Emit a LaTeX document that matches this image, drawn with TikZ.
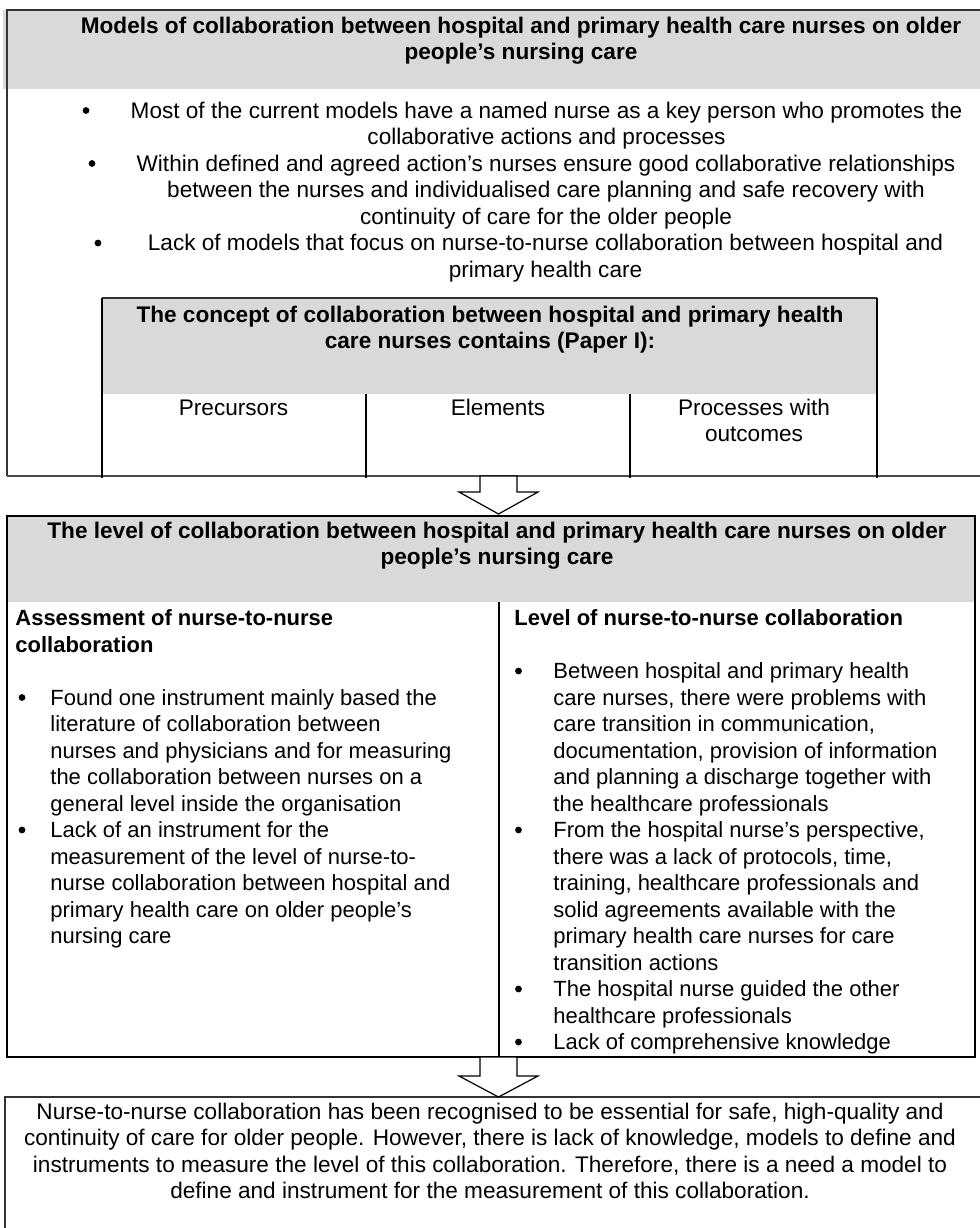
\documentclass[tikz,border=0pt]{standalone}
\usepackage{fontspec}
\setmainfont{Liberation Sans}
\definecolor{hdr}{HTML}{D9D9D9}
\begin{document}
\begin{tikzpicture}[x=0.5pt,y=-0.5pt,
  t/.style={font=\fontsize{11.3}{13}\selectfont, inner sep=0pt, anchor=base},
  tl/.style={font=\fontsize{11}{13}\selectfont, inner sep=0pt, anchor=base west},
  tb/.style={t, font=\fontsize{11.3}{13}\selectfont\bfseries},
  tbl/.style={tl, font=\fontsize{11}{13}\selectfont\bfseries},
  bul/.style={circle, fill=black, inner sep=0pt, minimum size=3.4pt},
  frame/.style={line width=0.6pt, draw=black!80},
  innerline/.style={line width=0.9pt, draw=black},
  heavy/.style={line width=0.8pt, draw=black},
  blockarrow/.style={line width=0.6pt, draw=black, fill=white},
  ]
\useasboundingbox (0,0) rectangle (980,1228);

% ---------- top box ----------
\fill[hdr] (3,10) rectangle (980,89);
\draw[frame] (980,10) -- (7,10) -- (7,476);
\draw[line width=0.9pt, draw=black!70] (7,476) -- (980,476);
\node[tb] (h1a) at (521,33) {Models of collaboration between hospital and primary health care nurses on older};
\node[tb] (h1b) at (521,59.5) {people’s nursing care};

\node[bul] (b1) at (86,110.5) {};
\node[t] (a1) at (546.5,118) {Most of the current models have a named nurse as a key person who promotes the};
\node[t] (a2) at (546.5,144.5) {collaborative actions and processes};
\node[bul] (b2) at (92,163.5) {};
\node[t] (a3) at (546,171) {Within defined and agreed action’s nurses ensure good collaborative relationships};
\node[t] (a4) at (546,197.5) {between the nurses and individualised care planning and safe recovery with};
\node[t] (a5) at (546,224) {continuity of care for the older people};
\node[bul] (b3) at (98,243) {};
\node[t] (a6) at (545.5,250.5) {Lack of models that focus on nurse-to-nurse collaboration between hospital and};
\node[t] (a7) at (545.5,277) {primary health care};

% inner box
\fill[hdr] (102,298) rectangle (877,394);
\draw[frame] (102,298) -- (877,298);
\draw[innerline] (102,478) -- (102,298);
\draw[innerline] (877,298) -- (877,478);
\draw[innerline] (366,394) -- (366,478);
\draw[innerline] (630,394) -- (630,478);
\node[tb] (c1) at (490,322) {The concept of collaboration between hospital and primary health};
\node[tb] (c2) at (490,348.5) {care nurses contains (Paper I):};
\node[t] (p1) at (233.5,415) {Precursors};
\node[t] (p2) at (498,415) {Elements};
\node[t] (p3) at (754,415) {Processes with};
\node[t] (p4) at (754,441.5) {outcomes};

% ---------- middle box ----------
\fill[hdr] (7,516) rectangle (975,602);
\draw[heavy] (7,516) rectangle (975,1057);
\draw[heavy] (499,602) -- (499,1057);
\node[tb] (h2a) at (497,538) {The level of collaboration between hospital and primary health care nurses on older};
\node[tb] (h2b) at (497,564.5) {people’s nursing care};

\node[tbl] (l0a) at (15,625.5) {Assessment of nurse-to-nurse};
\node[tbl] (l0b) at (15,652) {collaboration};
\node[bul] (lb1) at (22,697.5) {};
\foreach \s [count=\i from 0] in {
  {Found one instrument mainly based the},
  {literature of collaboration between},
  {nurses and physicians and for measuring},
  {the collaboration between nurses on a},
  {general level inside the organisation},
  {Lack of an instrument for the},
  {measurement of the level of nurse-to-},
  {nurse collaboration between hospital and},
  {primary health care on older people’s},
  {nursing care}}
  \node[tl] (l\i) at (50,{705+26.5*\i}) {\s};
\node[bul] (lb2) at (22,830) {};

\node[tbl] (r0) at (514,625.5) {Level of nurse-to-nurse collaboration};
\foreach \s [count=\i from 0] in {
  {Between hospital and primary health},
  {care nurses, there were problems with},
  {care transition in communication,},
  {documentation, provision of information},
  {and planning a discharge together with},
  {the healthcare professionals},
  {From the hospital nurse’s perspective,},
  {there was a lack of protocols, time,},
  {training, healthcare professionals and},
  {solid agreements available with the},
  {primary health care nurses for care},
  {transition actions},
  {The hospital nurse guided the other},
  {healthcare professionals},
  {Lack of comprehensive knowledge}}
  \node[tl] (r\i) at (553,{678.5+26.5*\i}) {\s};
\node[bul] (rb1) at (518.5,671) {};
\node[bul] (rb2) at (518.5,830) {};
\node[bul] (rb3) at (518.5,989) {};
\node[bul] (rb4) at (518.5,1042) {};

% ---------- bottom box ----------
\draw[frame] (5,1228) -- (5,1097) -- (980,1097);
\node[t] (e1) at (490,1119) {Nurse-to-nurse collaboration has been recognised to be essential for safe, high-quality and};
\node[t] (e2) at (490,1145.5) {continuity of care for older people. However, there is lack of knowledge, models to define and};
\node[t] (e3) at (490,1172) {instruments to measure the level of this collaboration. Therefore, there is a need a model to};
\node[t] (e4) at (490,1198.5) {define and instrument for the measurement of this collaboration.};

% ---------- arrows ----------
\draw[blockarrow] (480,476) -- (517,476) -- (517,492) -- (538,492) -- (498.5,514) -- (459,492) -- (480,492) -- cycle;
\draw[blockarrow] (480,1057) -- (517,1057) -- (517,1076) -- (538,1076) -- (498.5,1097) -- (459,1076) -- (480,1076) -- cycle;
\end{tikzpicture}
\end{document}
